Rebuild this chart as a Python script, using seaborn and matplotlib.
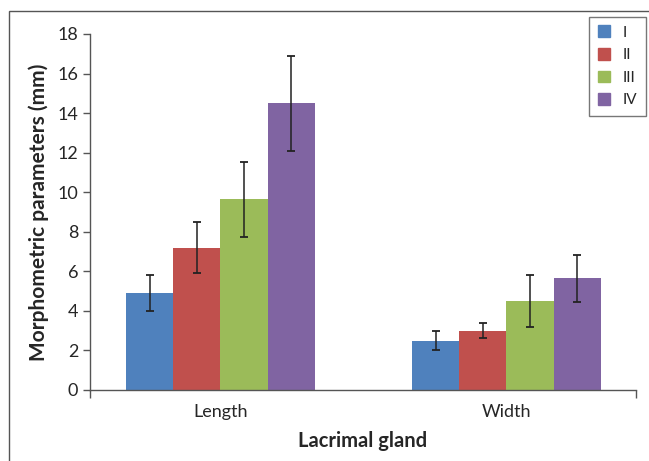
import pandas as pd
import matplotlib.pyplot as plt
import matplotlib.patches as mpatches
import seaborn as sns

sns.set_style("white")
plt.rcParams['font.family'] = ['Lato', 'DejaVu Sans']

# data
parameters = ['Length', 'Width']
groups = ['I', 'II', 'III', 'IV']
length_mean = [4.9, 7.2, 9.65, 14.5]
length_err = [0.9, 1.3, 1.9, 2.4]
width_mean = [2.5, 3.0, 4.5, 5.65]
width_err = [0.5, 0.38, 1.3, 1.2]
colors = ['#4F81BD', '#C0504D', '#9BBB59', '#8064A2']

df = pd.DataFrame({
    'param': ['Length'] * 4 + ['Width'] * 4,
    'group': groups * 2,
    'value': length_mean + width_mean,
    'err': length_err + width_err,
})

fig = plt.figure(figsize=(6.49, 4.61), dpi=100)
ax = fig.add_axes([90 / 649, 1 - 390 / 461, (636 - 90) / 649, (390 - 34) / 461])

sns.barplot(data=df, x='param', y='value', hue='group', order=parameters,
            hue_order=groups, palette=colors, width=0.66, saturation=1,
            errorbar=None, ax=ax, legend=False, linewidth=0)

# error bars at bar centres
for p, g in zip(ax.patches, [(par, grp) for grp in groups for par in parameters]):
    row = df[(df.param == g[0]) & (df.group == g[1])].iloc[0]
    ax.errorbar(p.get_x() + p.get_width() / 2, row.value, yerr=row.err,
                fmt='none', ecolor='#222222', elinewidth=1.1, capsize=3.2, capthick=1.3)

xmin, xmax = -0.456, 1.453
ax.set_xlim(xmin, xmax)
ax.set_ylim(0, 18)
ax.set_yticks(range(0, 19, 2))
ax.set_xticks([xmin, xmax], minor=True)
ax.tick_params(axis='x', which='major', length=0, pad=10, labelsize=13)
ax.tick_params(axis='x', which='minor', length=6, direction='out', width=1, color='#555555', bottom=True)
ax.tick_params(axis='y', length=5, direction='out', width=1, color='#555555', left=True, labelsize=13)

for s in ['top', 'right']:
    ax.spines[s].set_visible(False)
for s in ['left', 'bottom']:
    ax.spines[s].set_color('#555555')
    ax.spines[s].set_linewidth(1)

ax.set_xlabel('Lacrimal gland', fontsize=14.5, fontweight='bold', labelpad=8)
ax.set_ylabel('Morphometric parameters (mm)', fontsize=15, fontweight='bold', labelpad=6)

handles = [mpatches.Patch(color=c, label=g) for c, g in zip(colors, groups)]
leg = fig.legend(handles=handles, loc='upper right', bbox_to_anchor=(646 / 649, 1 - 17 / 461),
                 frameon=True, fancybox=False, handlelength=0.8, handleheight=0.8,
                 handletextpad=0.85, labelspacing=0.55, fontsize=11, borderpad=0.55,
                 borderaxespad=0)
leg.get_frame().set_edgecolor('#555555')
leg.get_frame().set_linewidth(1)

# outer frame
fig.patches.append(mpatches.Rectangle((9 / 649, -0.1), 1.2, 1 - 11 / 461 + 0.1,
                                      transform=fig.transFigure, fill=False,
                                      edgecolor='#555555', linewidth=1))

fig.savefig('out.png', dpi=100)
